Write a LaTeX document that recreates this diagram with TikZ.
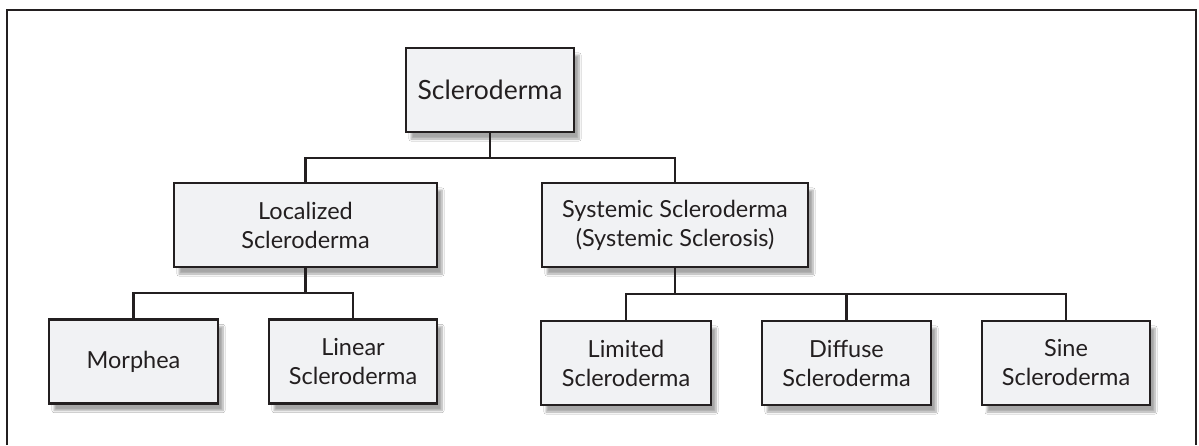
\documentclass[tikz,border=0pt]{standalone}
\usepackage{fontspec}
\setmainfont{Lato}
\usetikzlibrary{shadows.blur}
\definecolor{ink}{HTML}{231F20}
\definecolor{boxfill}{HTML}{F1F2F4}
\begin{document}
\begin{tikzpicture}[x=1pt,y=-1pt,
  box/.style={draw=ink, line width=2.6pt, fill=boxfill, rectangle,
    minimum width=#1, minimum height=84pt, inner sep=0pt, align=center,
    text=ink, font=\fontsize{23.5}{29}\selectfont,
    blur shadow={shadow xshift=5pt, shadow yshift=-7pt, shadow blur steps=8, shadow opacity=35}},
  box/.default=168pt,
  link/.style={draw=ink, line width=2.6pt}]
\useasboundingbox (0,0) rectangle (1199,445);
\fill[white] (0,0) rectangle (1199,445);
\draw[ink, line width=2.6pt] (7,445) -- (7,10) -- (1196,10) -- (1196,445);

\node[box=168pt, font=\fontsize{26.5}{31}\selectfont] (scl) at (490,90) {Scleroderma};
\node[box=263pt] (loc) at (305.5,225) {Localized\\Scleroderma};
\node[box=266pt] (sys) at (675,225) {Systemic Scleroderma\\(Systemic Sclerosis)};
\node[box=169pt] (mor) at (133.5,361.5) {Morphea};
\node[box=168pt] (lin) at (353,361.5) {Linear\\Scleroderma};
\node[box=170pt] (lim) at (626,363) {Limited\\Scleroderma};
\node[box=169pt] (dif) at (846.5,363) {Diffuse\\Scleroderma};
\node[box=168pt] (sin) at (1066,363) {Sine\\Scleroderma};

\coordinate (j1) at (490,158);
\coordinate (j2) at (305.5,293);
\coordinate (j3) at (675,294);

\draw[link] (scl.south) -- (j1);
\draw[link] (loc.north) |- (j1) -| (sys.north);
\draw[link] (loc.south) -- (j2);
\draw[link] (mor.north) |- (j2) -| (lin.north);
\draw[link] (sys.south) -- (j3);
\draw[link] (lim.north) |- (j3) -| (sin.north);
\draw[link] (dif.north) -- (dif.north |- j3);
\end{tikzpicture}
\end{document}
